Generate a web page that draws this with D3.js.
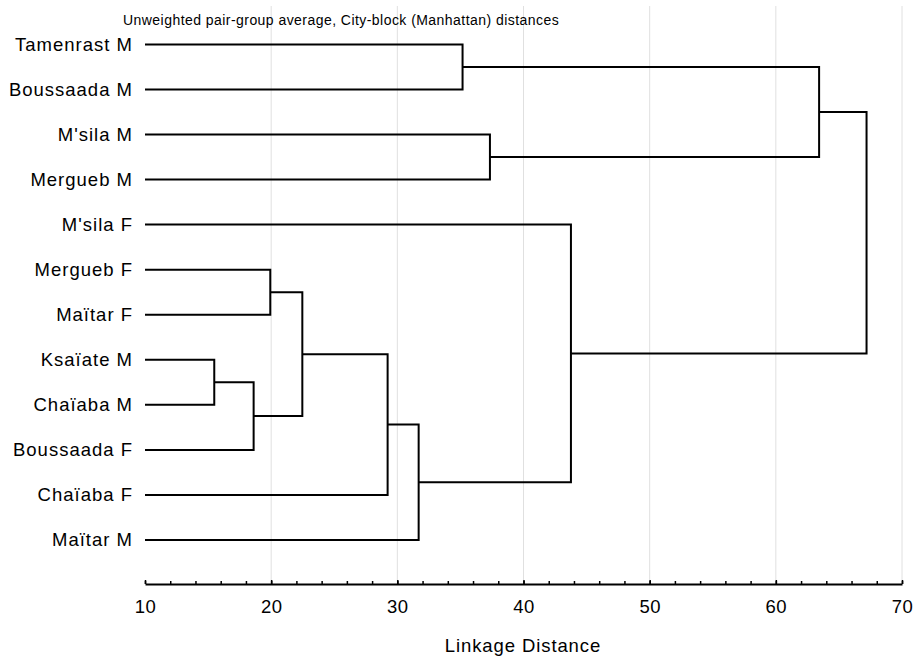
<!DOCTYPE html>
<html>
<head>
<meta charset="utf-8">
<title>Dendrogram</title>
<script src="https://d3js.org/d3.v7.min.js"></script>
<style>
	body { margin: 0; background: #fff; }
	svg text { font-family: "Liberation Sans", Arial, sans-serif; fill: #000; }
	.grid line { stroke: #e0e0e0; stroke-width: 1; }
</style>
</head>
<body>
<div id="chart"></div>
<script>
// leaves, top to bottom
var leaves = ["Tamenrast M", "Boussaada M", "M'sila M", "Mergueb M", "M'sila F",
	"Mergueb F", "Maïtar F", "Ksaïate M", "Chaïaba M", "Boussaada F", "Chaïaba F", "Maïtar M"];

// merges: [cluster a, cluster b, linkage distance]; ids < 12 are leaves, then 12, 13, ...
var merges = [
	[7, 8, 15.49],
	[12, 9, 18.61],
	[5, 6, 19.93],
	[14, 13, 22.47],
	[15, 10, 29.23],
	[16, 11, 31.69],
	[0, 1, 35.17],
	[2, 3, 37.34],
	[4, 17, 43.76],
	[18, 19, 63.43],
	[21, 20, 67.19]
];

var xTicks = [10, 20, 30, 40, 50, 60, 70];
var minorTicks = d3.range(10, 71, 2);

var title = "Unweighted pair-group average, City-block (Manhattan) distances";
var xTitle = "Linkage Distance";

var width = 914, height = 657;
var axisY = 584;

var svg = d3.select("#chart").append("svg")
	.attr("width", width)
	.attr("height", height);

var x = d3.scaleLinear().domain([10, 70]).range([145, 902]);
var y = d3.scalePoint().domain(d3.range(leaves.length)).range([44.4, 540]);

// grid
svg.append("g").attr("class", "grid")
	.selectAll("line")
	.data(xTicks.slice(1))
	.enter().append("line")
	.attr("x1", function (d) { return x(d); })
	.attr("x2", function (d) { return x(d); })
	.attr("y1", 6)
	.attr("y2", axisY);

svg.append("text")
	.attr("x", 123)
	.attr("y", 25)
	.attr("font-size", "14px")
	.attr("letter-spacing", "0.45px")
	.text(title);

// node positions
var nodes = leaves.map(function (d, i) { return { y: y(i), h: 10 }; });
merges.forEach(function (m) {
	var a = nodes[m[0]], b = nodes[m[1]];
	nodes.push({ y: (a.y + b.y) / 2, h: m[2] });
});

svg.append("g")
	.selectAll("path")
	.data(merges)
	.enter().append("path")
	.attr("fill", "none")
	.attr("stroke", "#000")
	.attr("stroke-width", 2)
	.attr("d", function (m) {
		var a = nodes[m[0]], b = nodes[m[1]];
		var p = d3.path();
		p.moveTo(x(a.h), a.y);
		p.lineTo(x(m[2]), a.y);
		p.lineTo(x(m[2]), b.y);
		p.lineTo(x(b.h), b.y);
		return p.toString();
	});

// leaf labels
svg.append("g")
	.selectAll("text")
	.data(leaves)
	.enter().append("text")
	.attr("x", 133)
	.attr("y", function (d, i) { return y(i); })
	.attr("dy", "0.35em")
	.attr("text-anchor", "end")
	.attr("font-size", "18.5px")
	.attr("letter-spacing", "1px")
	.text(function (d) { return d; });

// axis
var minorAxis = d3.axisBottom(x).tickValues(minorTicks).tickSize(-3).tickFormat("");
svg.append("g")
	.attr("transform", "translate(0," + axisY + ")")
	.call(minorAxis)
	.call(function (g) { g.select(".domain").remove(); })
	.selectAll("line").attr("stroke", "#000").attr("stroke-width", 1.5);

var axis = d3.axisBottom(x).tickValues(xTicks).tickSize(-4).tickSizeOuter(0).tickPadding(15.6);
var ax = svg.append("g")
	.attr("transform", "translate(0," + axisY + ")")
	.call(axis);
ax.select(".domain").attr("stroke", "#000").attr("stroke-width", 2);
ax.selectAll(".tick line").attr("stroke", "#000").attr("stroke-width", 1.5);
ax.selectAll(".tick text")
	.attr("font-size", "18.5px")
	.attr("letter-spacing", "0.5px")
	.attr("fill", "#000");

svg.append("text")
	.attr("x", 523)
	.attr("y", 652)
	.attr("text-anchor", "middle")
	.attr("font-size", "18.5px")
	.attr("letter-spacing", "0.9px")
	.text(xTitle);
</script>
</body>
</html>
